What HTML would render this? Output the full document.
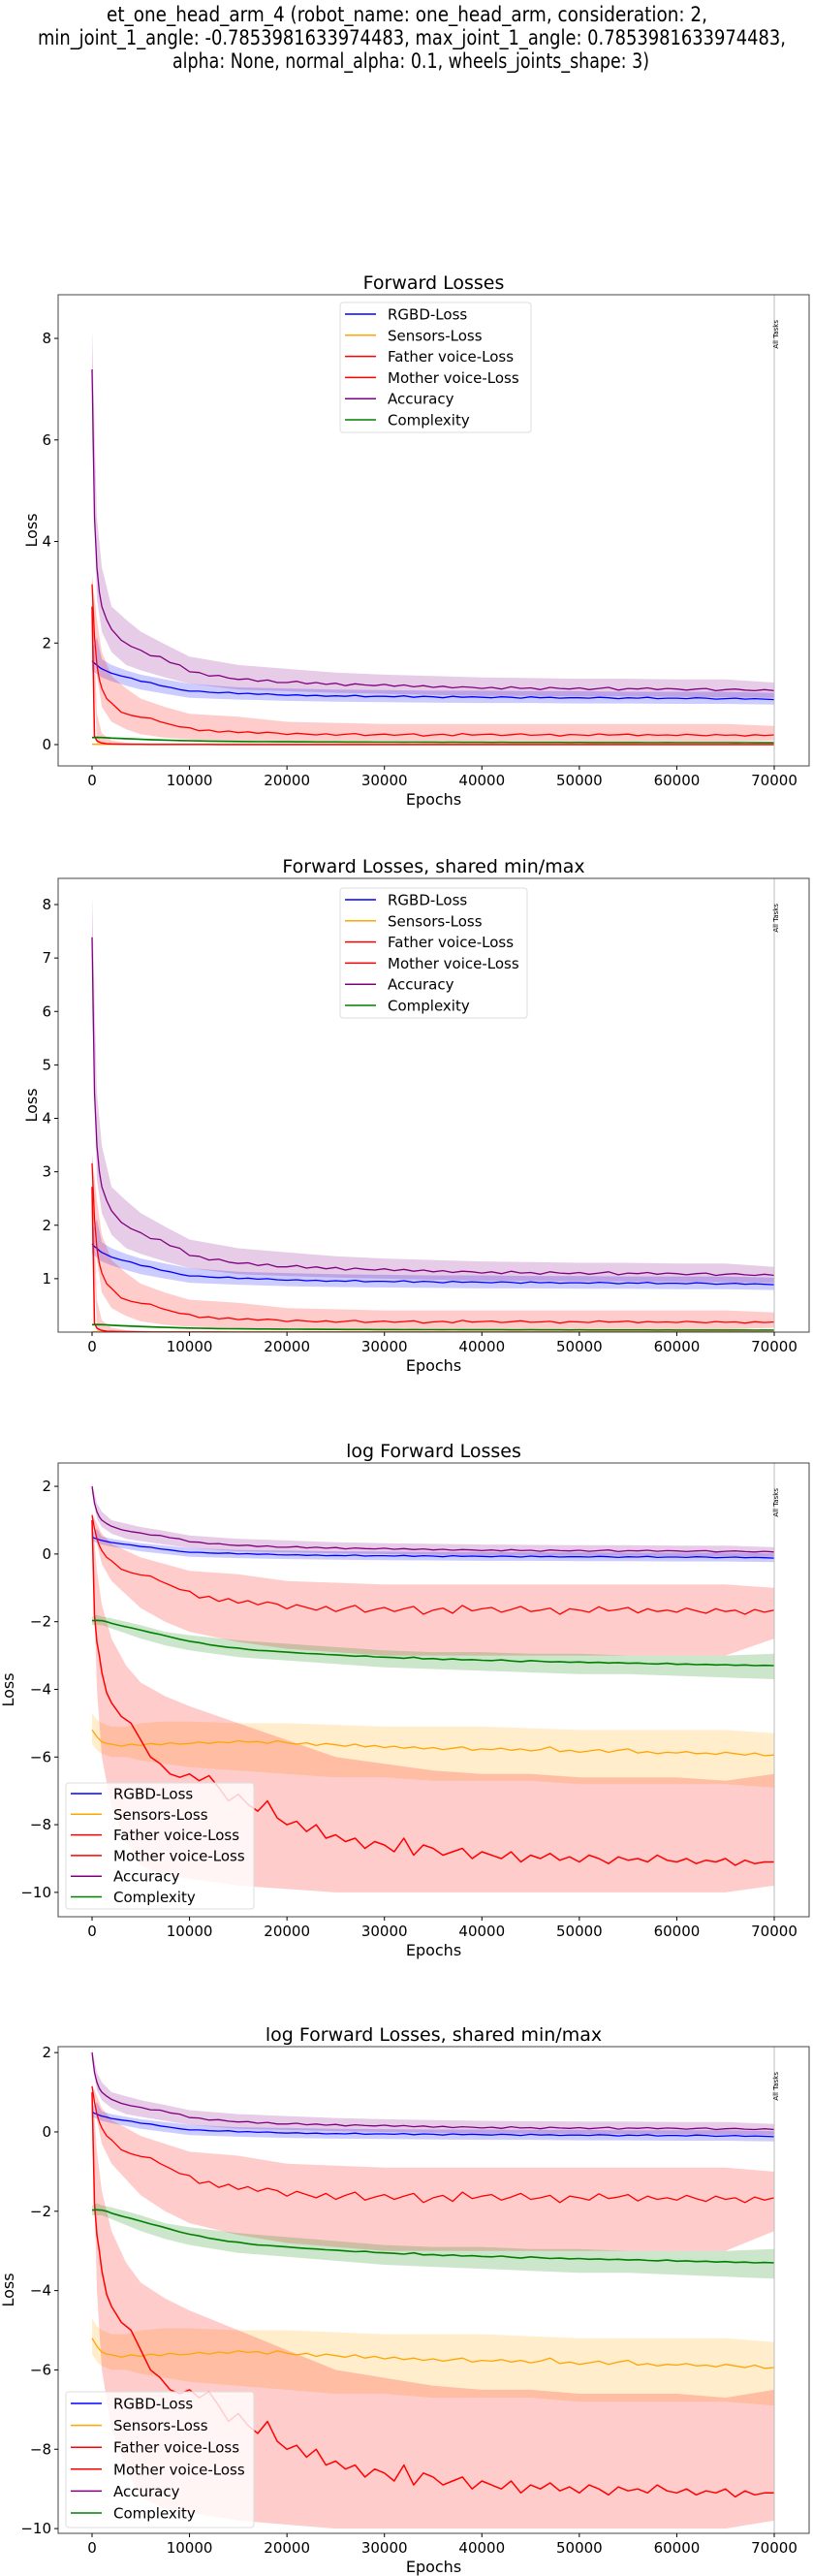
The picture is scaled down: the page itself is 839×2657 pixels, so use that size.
<!DOCTYPE html>
<html><head><meta charset="utf-8">
<style>
html,body{margin:0;padding:0;background:#fff;}
svg{display:block;font-family:"DejaVu Sans","Liberation Sans",sans-serif;}
</style></head>
<body>
<svg id="fig" width="839" height="2657" viewBox="0 0 839 2657" xmlns="http://www.w3.org/2000/svg">
<rect x="0" y="0" width="839" height="2657" fill="#fff"/>
<g font-size="21" fill="#000" text-anchor="middle">
<text x="420" y="22" textLength="620" lengthAdjust="spacingAndGlyphs">et_one_head_arm_4 (robot_name: one_head_arm, consideration: 2,</text>
<text x="425" y="46" textLength="772" lengthAdjust="spacingAndGlyphs">min_joint_1_angle: -0.7853981633974483, max_joint_1_angle: 0.7853981633974483,</text>
<text x="424" y="70" textLength="492" lengthAdjust="spacingAndGlyphs">alpha: None, normal_alpha: 0.1, wheels_joints_shape: 3)</text>
</g>
</svg>
<script>
// ---- data (log-space values) ----
const epochs = [0,250,500,750,1000,1500,2000,3000,4000,5000,6000,7000,8000,9000,10000,
11000,12000,13000,14000,15000,16000,17000,18000,19000,20000,
21000,22000,23000,24000,25000,26000,27000,28000,29000,30000,
31000,32000,33000,34000,35000,36000,37000,38000,39000,40000,
41000,42000,43000,44000,45000,46000,47000,48000,49000,50000,
51000,52000,53000,54000,55000,56000,57000,58000,59000,60000,
61000,62000,63000,64000,65000,66000,67000,68000,69000,70000];
const rgbdLog = [0.50,0.47,0.45,0.42,0.40,0.37,0.34,0.30,0.27,0.22,0.20,0.15,0.12,0.08,0.05,
0.05,0.03,0.02,0.03,0.00,0.01,-0.01,0.00,-0.02,-0.03,
-0.02,-0.04,-0.03,-0.05,-0.04,-0.05,-0.03,-0.06,-0.05,-0.05,
-0.06,-0.04,-0.07,-0.05,-0.06,-0.08,-0.05,-0.07,-0.06,-0.07,
-0.08,-0.06,-0.07,-0.09,-0.06,-0.08,-0.07,-0.09,-0.08,-0.08,
-0.09,-0.07,-0.08,-0.10,-0.08,-0.09,-0.07,-0.10,-0.09,-0.09,
-0.10,-0.08,-0.09,-0.11,-0.10,-0.09,-0.11,-0.10,-0.11,-0.12];
const sensorsLog = [-5.20,-5.30,-5.40,-5.48,-5.55,-5.60,-5.62,-5.68,-5.62,-5.66,-5.60,-5.64,-5.58,-5.62,-5.60,
-5.56,-5.60,-5.55,-5.58,-5.52,-5.56,-5.54,-5.60,-5.52,-5.58,
-5.62,-5.58,-5.66,-5.60,-5.64,-5.68,-5.62,-5.70,-5.66,-5.72,
-5.68,-5.74,-5.70,-5.76,-5.72,-5.78,-5.74,-5.70,-5.80,-5.76,
-5.78,-5.74,-5.80,-5.76,-5.82,-5.78,-5.70,-5.84,-5.80,-5.86,
-5.82,-5.78,-5.86,-5.80,-5.76,-5.88,-5.84,-5.90,-5.86,-5.88,
-5.84,-5.90,-5.88,-5.92,-5.86,-5.90,-5.94,-5.88,-5.96,-5.94];
const fatherLog = [1.15,0.75,0.45,0.25,0.10,-0.10,-0.20,-0.45,-0.55,-0.62,-0.65,-0.80,-0.92,-1.05,-1.10,
-1.30,-1.25,-1.40,-1.32,-1.45,-1.38,-1.50,-1.42,-1.48,-1.62,
-1.50,-1.58,-1.66,-1.55,-1.70,-1.60,-1.52,-1.72,-1.64,-1.58,
-1.70,-1.62,-1.55,-1.78,-1.66,-1.60,-1.75,-1.52,-1.68,-1.62,
-1.58,-1.72,-1.64,-1.55,-1.70,-1.66,-1.60,-1.78,-1.62,-1.66,
-1.72,-1.56,-1.68,-1.64,-1.58,-1.74,-1.62,-1.70,-1.66,-1.72,
-1.60,-1.68,-1.75,-1.62,-1.70,-1.66,-1.78,-1.64,-1.72,-1.66];
const motherLog = [1.00,-1.80,-2.60,-3.00,-3.50,-4.10,-4.40,-4.80,-5.00,-5.50,-6.00,-6.20,-6.50,-6.60,-6.50,
-6.70,-6.55,-6.90,-7.30,-7.10,-7.40,-7.60,-7.30,-7.80,-8.00,
-7.90,-8.20,-8.00,-8.40,-8.30,-8.50,-8.40,-8.70,-8.50,-8.60,
-8.80,-8.40,-8.90,-8.60,-8.70,-8.90,-8.80,-8.70,-9.00,-8.80,
-8.90,-9.00,-8.80,-9.10,-8.90,-9.00,-8.85,-9.05,-8.95,-9.10,
-8.90,-9.00,-9.15,-8.95,-9.05,-9.00,-9.10,-8.90,-9.05,-9.10,
-9.00,-9.15,-9.05,-9.10,-9.00,-9.20,-9.05,-9.15,-9.10,-9.10];
const accuracyLog = [2.00,1.50,1.25,1.10,1.00,0.90,0.82,0.72,0.66,0.62,0.56,0.55,0.48,0.45,0.36,
0.35,0.30,0.31,0.27,0.25,0.26,0.22,0.24,0.20,0.20,
0.22,0.18,0.20,0.17,0.19,0.15,0.18,0.16,0.15,0.17,
0.14,0.16,0.13,0.15,0.12,0.14,0.11,0.13,0.12,0.10,
0.12,0.09,0.13,0.10,0.11,0.08,0.12,0.10,0.09,0.11,
0.08,0.10,0.12,0.07,0.10,0.09,0.11,0.08,0.10,0.09,
0.07,0.09,0.10,0.06,0.08,0.09,0.07,0.06,0.08,0.06];
const complexityLog = [-1.97,-1.97,-1.96,-1.97,-1.97,-2.00,-2.05,-2.12,-2.18,-2.25,-2.32,-2.38,-2.45,-2.52,-2.58,
-2.62,-2.68,-2.72,-2.76,-2.78,-2.82,-2.85,-2.86,-2.88,-2.90,
-2.92,-2.94,-2.95,-2.97,-2.98,-3.00,-3.02,-3.01,-3.04,-3.05,
-3.06,-3.08,-3.05,-3.10,-3.09,-3.12,-3.10,-3.13,-3.12,-3.14,
-3.15,-3.13,-3.16,-3.18,-3.15,-3.17,-3.19,-3.18,-3.20,-3.19,
-3.21,-3.20,-3.22,-3.21,-3.23,-3.22,-3.24,-3.25,-3.23,-3.26,
-3.25,-3.27,-3.26,-3.28,-3.27,-3.29,-3.28,-3.30,-3.29,-3.30];

// min/max bands (log space) at coarser epochs
const bandEpochs = [0,500,1000,2000,3500,5000,7500,10000,15000,20000,25000,30000,35000,40000,45000,50000,55000,60000,65000,70000];
const rgbdLo = [0.38,0.33,0.28,0.22,0.15,0.08,0.0,-0.08,-0.12,-0.15,-0.17,-0.18,-0.19,-0.2,-0.2,-0.21,-0.21,-0.22,-0.22,-0.24];
const rgbdHi = [0.62,0.75,0.52,0.45,0.38,0.32,0.25,0.18,0.12,0.10,0.08,0.07,0.06,0.06,0.05,0.05,0.04,0.04,0.04,0.02];
const sensorsLo = [-5.6,-5.8,-5.9,-6.0,-6.0,-6.1,-6.2,-6.3,-6.4,-6.5,-6.6,-6.6,-6.7,-6.7,-6.7,-6.8,-6.8,-6.8,-6.8,-6.9];
const sensorsHi = [-4.7,-4.9,-5.0,-5.1,-5.1,-5.0,-4.95,-4.95,-5.0,-5.0,-5.05,-5.1,-5.1,-5.1,-5.15,-5.2,-5.2,-5.2,-5.2,-5.3];
const fatherLo = [1.0,0.3,-0.3,-0.8,-1.2,-1.6,-2.0,-2.3,-2.6,-2.8,-2.9,-3.0,-3.0,-3.0,-3.0,-3.0,-3.0,-3.0,-3.0,-2.5];
const fatherHi = [1.2,0.9,0.6,0.3,0.1,-0.1,-0.3,-0.5,-0.6,-0.8,-0.85,-0.9,-0.9,-0.9,-0.9,-0.9,-0.9,-0.9,-0.9,-1.0];
const motherLo = [0.8,-4,-6,-7.5,-8.5,-9.2,-9.5,-9.6,-9.8,-9.9,-10.0,-10.0,-10.0,-10.0,-10.0,-10.0,-10.0,-10.0,-10.0,-9.8];
const motherHi = [1.2,-0.5,-1.5,-2.5,-3.3,-3.8,-4.2,-4.5,-5.0,-5.5,-6.0,-6.2,-6.4,-6.5,-6.5,-6.6,-6.6,-6.6,-6.7,-6.5];
const accuracyLo = [1.8,1.05,0.8,0.6,0.45,0.38,0.28,0.18,0.08,0.05,0.02,0.0,-0.02,-0.04,-0.04,-0.05,-0.05,-0.06,-0.07,-0.08];
const accuracyHi = [2.1,1.5,1.25,1.0,0.9,0.8,0.68,0.55,0.45,0.4,0.35,0.32,0.3,0.28,0.27,0.26,0.26,0.25,0.25,0.2];
const complexityLo = [-2.1,-2.1,-2.1,-2.2,-2.35,-2.5,-2.7,-2.85,-3.05,-3.15,-3.25,-3.35,-3.4,-3.45,-3.5,-3.55,-3.55,-3.6,-3.65,-3.7];
const complexityHi = [-1.85,-1.8,-1.85,-1.9,-2.0,-2.1,-2.3,-2.4,-2.55,-2.65,-2.75,-2.85,-2.9,-2.9,-2.95,-2.95,-3.0,-3.0,-3.0,-2.95];

const seriesNames = ["RGBD-Loss","Sensors-Loss","Father voice-Loss","Mother voice-Loss","Accuracy","Complexity"];
const xTicks = [0,10000,20000,30000,40000,50000,60000,70000];
const ticksP1 = [0,2,4,6,8];
const ticksP2 = [1,2,3,4,5,6,7,8];
const ticksLog = [-10,-8,-6,-4,-2,0,2];

const NS = "http://www.w3.org/2000/svg";
const svg = document.getElementById("fig");
function mk(tag, attrs, parent){
  const e = document.createElementNS(NS, tag);
  for (const k in attrs) e.setAttribute(k, attrs[k]);
  (parent||svg).appendChild(e);
  return e;
}
const colors = ["#0000ff","#ffa500","#ff0000","#ff0000","#800080","#008000"];
const widths = [1.3,1.3,1.3,1.5,1.3,1.6];
const means = [rgbdLog,sensorsLog,fatherLog,motherLog,accuracyLog,complexityLog];
const los = [rgbdLo,sensorsLo,fatherLo,motherLo,accuracyLo,complexityLo];
const his = [rgbdHi,sensorsHi,fatherHi,motherHi,accuracyHi,complexityHi];
const slug = ["rgbd","sensors","father-voice","mother-voice","accuracy","complexity"];

const panels = [
  {title:"Forward Losses", top:304, bottom:790, ymin:-0.42, ymax:8.86, ticks:ticksP1, log:false, ylx:38,
   lg:{x:351,y:312,w:197,h:134,first:324,step:21.8}},
  {title:"Forward Losses, shared min/max", top:906, bottom:1374, ymin:0, ymax:8.49, ticks:ticksP2, log:false, ylx:38,
   lg:{x:351,y:916,w:193,h:134,first:928,step:21.8}},
  {title:"log Forward Losses", top:1509, bottom:1977, ymin:-10.72, ymax:2.69, ticks:ticksLog, log:true, ylx:14,
   lg:{x:68,y:1839,w:194,h:130,first:1850,step:21.3}},
  {title:"log Forward Losses, shared min/max", top:2111, bottom:2613, ymin:-10.12, ymax:2.15, ticks:ticksLog, log:true, ylx:14,
   lg:{x:68,y:2467,w:194,h:140,first:2479,step:22.6}}
];
const L = 60, R = 835;
const X0 = 95, X70 = 799;
function xs(v){ return X0 + (v/70000)*(X70-X0); }

panels.forEach((p, pi) => {
  const g = mk("g", {});
  
  
  const ys = v => p.bottom - (v - p.ymin)/(p.ymax - p.ymin)*(p.bottom - p.top);
  const tr = v => p.log ? v : Math.exp(v);
  const clipId = "clip" + pi;
  const cp = mk("clipPath", {id:clipId}, g);
  mk("rect", {x:L, y:p.top, width:R-L, height:p.bottom-p.top}, cp);
  const plot = mk("g", {"clip-path":"url(#"+clipId+")"}, g);
  
  
  for (let s=0; s<6; s++){
    let d = "";
    bandEpochs.forEach((e,i)=>{ d += (i?"L":"M") + xs(e).toFixed(1) + "," + ys(tr(his[s][i])).toFixed(1); });
    for (let i=bandEpochs.length-1;i>=0;i--) d += "L" + xs(bandEpochs[i]).toFixed(1) + "," + ys(tr(los[s][i])).toFixed(1);
    const b = mk("path", {d:d+"Z", fill:colors[s], "fill-opacity":0.2, stroke:"none"}, plot);
    
    
  }
  for (let s=0; s<6; s++){
    let d = "";
    epochs.forEach((e,i)=>{ d += (i?"L":"M") + xs(e).toFixed(1) + "," + ys(tr(means[s][i])).toFixed(1); });
    const ln = mk("path", {d:d, fill:"none", stroke:colors[s], "stroke-width":widths[s], "stroke-linejoin":"round"}, plot);
    
    
  }
  const vl = mk("line", {x1:X70, x2:X70, y1:p.top, y2:p.bottom, stroke:"#bbb", "stroke-width":1}, g);
  
  
  const at = mk("text", {x:0, y:0, "font-size":7, fill:"#000", "text-anchor":"end",
    transform:"translate(" + (X70+4) + "," + (p.top+26) + ") rotate(-90)"}, g);
  at.textContent = "All Tasks";
  
  
  const fr = mk("rect", {x:L, y:p.top, width:R-L, height:p.bottom-p.top, fill:"none", stroke:"#444", "stroke-width":1}, g);
  
  
  xTicks.forEach(t=>{
    mk("line", {x1:xs(t), x2:xs(t), y1:p.bottom, y2:p.bottom+4, stroke:"#000"}, g);
    const tx = mk("text", {x:xs(t), y:p.bottom+20, "font-size":15, "text-anchor":"middle", fill:"#000"}, g);
    tx.textContent = String(t);
    
    
  });
  p.ticks.forEach(t=>{
    const y = ys(t);
    mk("line", {x1:L-4, x2:L, y1:y, y2:y, stroke:"#000"}, g);
    const ty = mk("text", {x:L-7, y:y+5, "font-size":15, "text-anchor":"end", fill:"#000"}, g);
    ty.textContent = t < 0 ? "\u2212" + Math.abs(t) : String(t);
    
    
  });
  const xl = mk("text", {x:(L+R)/2, y:p.bottom+40, "font-size":16, "text-anchor":"middle", fill:"#000"}, g);
  xl.textContent = "Epochs";
  
  
  const yl = mk("text", {x:0, y:0, "font-size":16, "text-anchor":"middle", fill:"#000",
    transform:"translate(" + p.ylx + "," + ((p.top+p.bottom)/2) + ") rotate(-90)"}, g);
  yl.textContent = "Loss";
  
  
  const tt = mk("text", {x:(L+R)/2, y:p.top-6, "font-size":19, "text-anchor":"middle", fill:"#000"}, g);
  tt.textContent = p.title;
  
  
  const lg = mk("g", {}, g);
  
  
  mk("rect", {x:p.lg.x, y:p.lg.y, width:p.lg.w, height:p.lg.h, rx:3, fill:"#fff", "fill-opacity":0.8, stroke:"#ddd"}, lg);
  seriesNames.forEach((n,i)=>{
    const y = p.lg.first + i*p.lg.step;
    const e = mk("g", {}, lg);
    
    
    mk("line", {x1:p.lg.x+5, x2:p.lg.x+37, y1:y, y2:y, stroke:colors[i], "stroke-width":1.5}, e);
    const t = mk("text", {x:p.lg.x+49, y:y+5.5, "font-size":15, fill:"#000"}, e);
    t.textContent = n;
  });
});
</script>
</body></html>
